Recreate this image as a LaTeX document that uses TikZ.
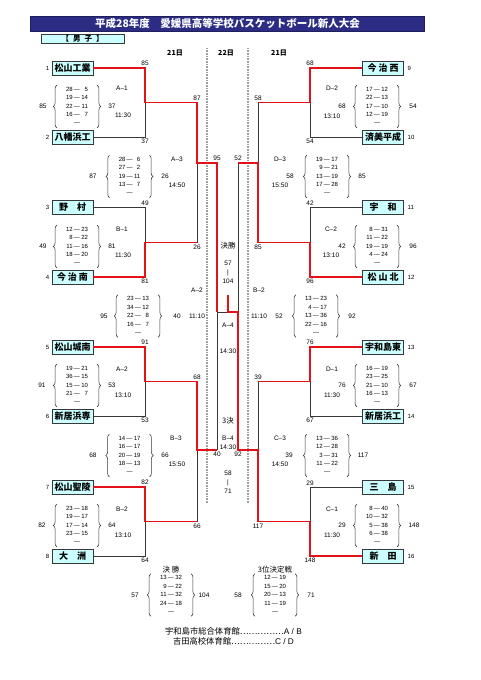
\documentclass[tikz,border=0pt]{standalone}
\usepackage{fontspec}
\setmainfont{Liberation Sans}
\newfontfamily\jp{Noto Sans CJK JP}
\usetikzlibrary{decorations.pathreplacing}

\definecolor{winred}{RGB}{228,18,24}
\definecolor{lineg}{RGB}{55,55,55}
\definecolor{boxcyan}{RGB}{204,255,255}
\definecolor{barnavy}{RGB}{44,44,132}

\newcommand{\qt}[1]{\begin{tabular}{@{}r@{\hspace{1.3pt}—\hspace{1.3pt}}r@{}}#1\\\multicolumn{2}{c}{—}\end{tabular}}
\newcommand{\braced}[1]{\draw[qbr] (#1.south west) -- (#1.north west); \draw[qbr] (#1.north east) -- (#1.south east);}

\begin{document}
\begin{tikzpicture}[x=1pt,y=-1pt,
  team/.style={draw=lineg,line width=0.9pt,fill=boxcyan,minimum width=41pt,minimum height=14pt,inner sep=0pt,font=\jp\bfseries\fontsize{9}{9}\selectfont},
  num/.style={font=\fontsize{6}{6}\selectfont,inner sep=0pt},
  win/.style={draw=winred,line width=1.5pt},
  lose/.style={draw=lineg,line width=0.7pt},
  sc/.style={font=\fontsize{6.5}{6.5}\selectfont,inner sep=1.5pt},
  tot/.style={font=\fontsize{6.5}{6.5}\selectfont,inner sep=0pt},
  lab/.style={font=\jp\fontsize{7.5}{7.5}\selectfont,inner sep=0pt},
  qn/.style={inner xsep=9pt,inner ysep=0pt,font=\fontsize{6}{8.4}\selectfont},
  qbr/.style={draw=lineg,line width=0.55pt,decorate,decoration={brace,amplitude=3.5pt}},
  sepline/.style={draw=gray!75,line width=1.2pt,dash pattern=on 0.8pt off 0.8pt}]
  \useasboundingbox (0,0) rectangle (481,680);
  % heading
  \node[fill=barnavy,draw=barnavy!70!black,minimum width=394pt,minimum height=15pt,inner sep=0pt,text=white,font=\jp\bfseries\fontsize{10.5}{10.5}\selectfont] (title) at (227.5,23.2) {平成28年度　愛媛県高等学校バスケットボール新人大会};
  \node[fill=boxcyan,draw=lineg,line width=0.9pt,minimum width=83pt,minimum height=9pt,inner sep=0pt,font=\jp\bfseries\fontsize{7.5}{7.5}\selectfont] (sex) at (82.7,38.8) {【\hspace{4pt}男\hspace{4pt}子\hspace{4pt}】};
  \node[lab,font=\jp\bfseries\fontsize{7}{7}\selectfont] (day1) at (175,53) {21日};
  \node[lab,font=\jp\bfseries\fontsize{7}{7}\selectfont] (day2) at (226,53) {22日};
  \node[lab,font=\jp\bfseries\fontsize{7}{7}\selectfont] (day3) at (279,53) {21日};
  \draw[sepline] (207,48) -- (207,503);
  \draw[sepline] (248,48) -- (248,503);
  %
  % teams
  \node[team] (t1) at (72.5,68) {松山工業};
  \node[team] (t2) at (72.5,137.5) {八幡浜工};
  \node[team] (t3) at (72.5,207.5) {野　村};
  \node[team] (t4) at (72.5,277) {今\hspace{2pt}治\hspace{2pt}南};
  \node[team] (t5) at (72.5,347) {松山城南};
  \node[team] (t6) at (72.5,416) {新居浜専};
  \node[team] (t7) at (72.5,487) {松山聖陵};
  \node[team] (t8) at (72.5,556) {大　洲};
  \node[team] (t9) at (383,68) {今\hspace{2pt}治\hspace{2pt}西};
  \node[team] (t10) at (383,137.5) {済美平成};
  \node[team] (t11) at (383,207.5) {宇　和};
  \node[team] (t12) at (383,277) {松\hspace{2pt}山\hspace{2pt}北};
  \node[team] (t13) at (383,347) {宇和島東};
  \node[team] (t14) at (383,416) {新居浜工};
  \node[team] (t15) at (383,487) {三　島};
  \node[team] (t16) at (383,556) {新　田};
  \node[num,anchor=east] (n1) at (49.5,68) {1};
  \node[num,anchor=east] (n2) at (49.5,137.5) {2};
  \node[num,anchor=east] (n3) at (49.5,207.5) {3};
  \node[num,anchor=east] (n4) at (49.5,277) {4};
  \node[num,anchor=east] (n5) at (49.5,347) {5};
  \node[num,anchor=east] (n6) at (49.5,416) {6};
  \node[num,anchor=east] (n7) at (49.5,487) {7};
  \node[num,anchor=east] (n8) at (49.5,556) {8};
  \node[num,anchor=west] (n9) at (407.5,68) {9};
  \node[num,anchor=west] (n10) at (407.5,137.5) {10};
  \node[num,anchor=west] (n11) at (407.5,207.5) {11};
  \node[num,anchor=west] (n12) at (407.5,277) {12};
  \node[num,anchor=west] (n13) at (407.5,347) {13};
  \node[num,anchor=west] (n14) at (407.5,416) {14};
  \node[num,anchor=west] (n15) at (407.5,487) {15};
  \node[num,anchor=west] (n16) at (407.5,556) {16};
  %
  % bracket points
  \coordinate (jA1) at (145,102.5);  \coordinate (eA1) at (197,102.5);
  \coordinate (jB1) at (145,242.5);  \coordinate (eB1) at (197,242.5);
  \coordinate (jA2) at (145,381.5);  \coordinate (eA2) at (197,381.5);
  \coordinate (jB2) at (145,521.5);  \coordinate (eB2) at (197,521.5);
  \coordinate (jA3) at (197,163);    \coordinate (eA3) at (217,163);
  \coordinate (jB3) at (197,450);    \coordinate (eB3) at (217,450);
  \coordinate (jD2) at (310,102.5);  \coordinate (eD2) at (258,102.5);
  \coordinate (jC2) at (310,242.5);  \coordinate (eC2) at (258,242.5);
  \coordinate (jD1) at (310,381.5);  \coordinate (eD1) at (258,381.5);
  \coordinate (jC1) at (310,521.5);  \coordinate (eC1) at (258,521.5);
  \coordinate (jD3) at (258,163);    \coordinate (eD3) at (238,163);
  \coordinate (jC3) at (258,450);    \coordinate (eC3) at (238,450);
  \coordinate (jFL) at (217,312);    \coordinate (jFR) at (238,312);
  \coordinate (jF) at (228,312);     \coordinate (champ) at (228,295);
  %
  % losers
  \draw[lose] (t2.east) -| node[sc,below]{37} (jA1);
  \draw[lose] (t3.east) -| node[sc,above]{49} (jB1);
  \draw[lose] (t6.east) -| node[sc,below]{53} (jA2);
  \draw[lose] (t8.east) -| node[sc,below]{64} (jB2);
  \draw[lose] (eB1) -- (jA3);
  \draw[lose] (eB2) -- (jB3);
  \draw[lose] (eB3) -- (jFL) -- (jF);
  \draw[lose] (t10.west) -| node[sc,below]{54} (jD2);
  \draw[lose] (t11.west) -| node[sc,above]{42} (jC2);
  \draw[lose] (t14.west) -| node[sc,below]{67} (jD1);
  \draw[lose] (t15.west) -| node[sc,above]{29} (jC1);
  \draw[lose] (eD2) -- (jD3);
  \draw[lose] (eD1) -- (jC3);
  \draw[lose] (eD3) -- (jFR);
  %
  % winners
  \draw[win] (t1.east) -| node[sc,above]{85} (jA1) -- (eA1) node[sc,above]{87} -- (jA3) -- (eA3) node[sc,above]{95} -- (jFL);
  \draw[win] (t4.east) -| node[sc,below]{81} (jB1) -- (eB1) node[sc,below]{26};
  \draw[win] (t5.east) -| node[sc,above]{91} (jA2) -- (eA2) node[sc,above]{68} -- (jB3) -- (eB3) node[sc,below]{40};
  \draw[win] (t7.east) -| node[sc,above]{82} (jB2) -- (eB2) node[sc,below]{66};
  \draw[win] (t9.west) -| node[sc,above]{68} (jD2) -- (eD2) node[sc,above]{58};
  \draw[win] (t12.west) -| node[sc,below]{96} (jC2) -- (eC2) node[sc,below]{85} -- (jD3) -- (eD3) node[sc,above]{52};
  \draw[win] (t13.west) -| node[sc,above]{76} (jD1) -- (eD1) node[sc,above]{39};
  \draw[win] (t16.west) -| node[sc,below]{148} (jC1) -- (eC1) node[sc,below]{117} -- (jC3) -- (eC3) node[sc,below]{92} -- (jFR) -- (jF) -- (champ);
  %
  % centre labels
  \node[lab] (fin) at (228,246) {決勝};
  \node[tot,align=center,font=\fontsize{6.5}{9}\selectfont] (finsc) at (228,272) {57\\|\\104};
  \node[tot] (cA4) at (228,325) {A–4};
  \node[tot] (hA4) at (228,351) {14:30};
  \node[lab] (third) at (228,421) {3決};
  \node[tot] (cB4) at (228,438) {B–4};
  \node[tot] (hB4) at (228,447) {14:30};
  \node[tot,align=center,font=\fontsize{6.5}{9}\selectfont] (thsc) at (228,482) {58\\|\\71};
  %
  % quarter scores, left
  \node[qn] (qA1) at (77,106.5) {\qt{28&5\\19&14\\22&11\\16&7}}; \braced{qA1}
  \node[tot] (sA1a) at (43,106.5) {85}; \node[tot] (sA1b) at (112,106.5) {37};
  \node[tot] (cA1) at (122,88) {A–1}; \node[tot] (hA1) at (123,115) {11:30};
  \node[qn] (qB1) at (77,246.5) {\qt{12&23\\8&22\\11&16\\18&20}}; \braced{qB1}
  \node[tot] (sB1a) at (43,246.5) {49}; \node[tot] (sB1b) at (112,246.5) {81};
  \node[tot] (cB1) at (122,229) {B–1}; \node[tot] (hB1) at (123,255) {11:30};
  \node[qn] (qA2) at (77,385.5) {\qt{19&21\\36&15\\15&10\\21&7}}; \braced{qA2}
  \node[tot] (sA2a) at (42,385.5) {91}; \node[tot] (sA2b) at (112,385.5) {53};
  \node[tot] (cA2) at (122,369) {A–2}; \node[tot] (hA2) at (123,395) {13:10};
  \node[qn] (qB2) at (77,525.5) {\qt{23&18\\19&17\\17&14\\23&15}}; \braced{qB2}
  \node[tot] (sB2a) at (42,525.5) {82}; \node[tot] (sB2b) at (112,525.5) {64};
  \node[tot] (cB2) at (122,509) {B–2}; \node[tot] (hB2) at (123,535) {13:10};
  \node[qn] (qA3) at (129.5,176.5) {\qt{28&6\\27&2\\19&11\\13&7}}; \braced{qA3}
  \node[tot] (sA3a) at (93,176.5) {87}; \node[tot] (sA3b) at (165,176.5) {26};
  \node[tot] (cA3) at (177,159) {A–3}; \node[tot] (hA3) at (177,185) {14:50};
  \node[qn] (qB3) at (129.5,455.5) {\qt{14&17\\16&17\\20&19\\18&13}}; \braced{qB3}
  \node[tot] (sB3a) at (93,455.5) {68}; \node[tot] (sB3b) at (165,455.5) {66};
  \node[tot] (cB3) at (176,438) {B–3}; \node[tot] (hB3) at (177,464) {15:50};
  \node[qn] (qSL) at (138,316) {\qt{23&13\\34&12\\22&8\\16&7}}; \braced{qSL}
  \node[tot] (sSLa) at (104,316) {95}; \node[tot] (sSLb) at (177,316) {40};
  \node[tot] (cSL) at (197,290) {A–2}; \node[tot] (hSL) at (197,316) {11:10};
  %
  % quarter scores, right
  \node[qn] (qD2) at (377,106.5) {\qt{17&12\\22&13\\17&10\\12&19}}; \braced{qD2}
  \node[tot] (sD2a) at (342,106.5) {68}; \node[tot] (sD2b) at (413,106.5) {54};
  \node[tot] (cD2) at (332,88) {D–2}; \node[tot] (hD2) at (332,116) {13:10};
  \node[qn] (qC2) at (377,246.5) {\qt{8&31\\11&22\\19&19\\4&24}}; \braced{qC2}
  \node[tot] (sC2a) at (342,246.5) {42}; \node[tot] (sC2b) at (413,246.5) {96};
  \node[tot] (cC2) at (331,229) {C–2}; \node[tot] (hC2) at (331,255) {13:10};
  \node[qn] (qD1) at (377,385.5) {\qt{16&19\\23&25\\21&10\\16&13}}; \braced{qD1}
  \node[tot] (sD1a) at (342,385.5) {76}; \node[tot] (sD1b) at (413,385.5) {67};
  \node[tot] (cD1) at (332,369) {D–1}; \node[tot] (hD1) at (332,395) {11:30};
  \node[qn] (qC1) at (377,525.5) {\qt{8&40\\10&32\\5&38\\6&38}}; \braced{qC1}
  \node[tot] (sC1a) at (342,525.5) {29}; \node[tot] (sC1b) at (414,525.5) {148};
  \node[tot] (cC1) at (332,509) {C–1}; \node[tot] (hC1) at (332,535) {11:30};
  \node[qn] (qD3) at (327,176.5) {\qt{19&17\\9&21\\13&19\\17&28}}; \braced{qD3}
  \node[tot] (sD3a) at (290,176.5) {58}; \node[tot] (sD3b) at (362,176.5) {85};
  \node[tot] (cD3) at (280,159) {D–3}; \node[tot] (hD3) at (280,185) {15:50};
  \node[qn] (qC3) at (327,455.5) {\qt{13&36\\12&28\\3&31\\11&22}}; \braced{qC3}
  \node[tot] (sC3a) at (289,455.5) {39}; \node[tot] (sC3b) at (363,455.5) {117};
  \node[tot] (cC3) at (280,438) {C–3}; \node[tot] (hC3) at (280,464) {14:50};
  \node[qn] (qSR) at (316,316) {\qt{13&23\\4&17\\13&36\\22&16}}; \braced{qSR}
  \node[tot] (sSRa) at (279,316) {52}; \node[tot] (sSRb) at (352,316) {92};
  \node[tot] (cSR) at (259,290) {B–2}; \node[tot] (hSR) at (259,316) {11:10};
  %
  % final and third place
  \node[lab] (finhd) at (171,570) {決\hspace{2pt}勝};
  \node[qn] (qF) at (171,595) {\qt{13&32\\9&22\\11&32\\24&18}}; \braced{qF}
  \node[tot] (sFa) at (135,595) {57}; \node[tot] (sFb) at (204,595) {104};
  \node[lab] (thhd) at (275,570) {3位決定戦};
  \node[qn] (qT) at (275,595) {\qt{12&19\\15&20\\20&13\\11&19}}; \braced{qT}
  \node[tot] (sTa) at (238,595) {58}; \node[tot] (sTb) at (311,595) {71};
  %
  \node[inner sep=0pt,align=center,font=\fontsize{8.3}{10}\selectfont] (gym) at (233.5,636) {{\jp 宇和島市総合体育館……………}A / B\\{\jp 吉田高校体育館……………}C / D};
\end{tikzpicture}
\end{document}
